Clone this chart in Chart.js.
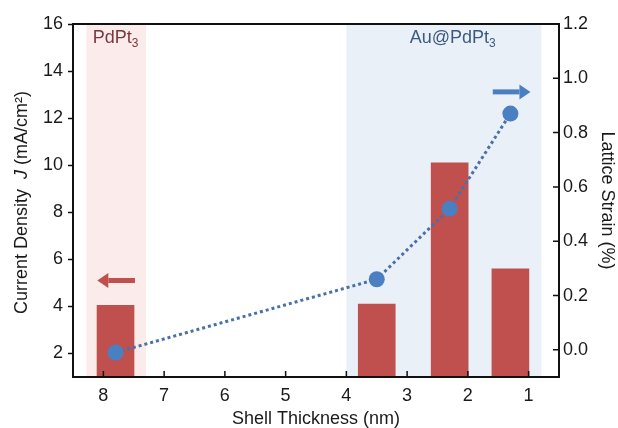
<!DOCTYPE html>
<html>
<head>
<meta charset="utf-8">
<script src="https://cdn.jsdelivr.net/npm/chart.js@4/dist/chart.umd.min.js"></script>
<style>
  html, body { margin: 0; padding: 0; background: #fff; }
  #wrap { width: 618px; height: 428px; }
</style>
</head>
<body>
<div id="wrap"><canvas id="chart" width="618" height="428"></canvas></div>
<script>
// --- datos ---
const thickness = [7.8, 3.5, 2.3, 1.3];            // nm
const currentDensity = [4.05, 4.1, 10.1, 5.6];      // mA/cm2 (eje izquierdo)
const latticeStrain = [-0.01, 0.26, 0.52, 0.87];    // % (eje derecho)

const xTicks = [1, 2, 3, 4, 5, 6, 7, 8];
const leftTicks = [2, 4, 6, 8, 10, 12, 14, 16];
const rightTicks = [0, 0.2, 0.4, 0.6, 0.8, 1.0, 1.2];

const pdpt3Band = [8.28, 7.3];
const auBand = [4.0, 0.79];
const pdpt3Label = [7.8, 15.2];      // x, J
const auLabel = [2.25, 15.2];        // x, J
const leftArrow = [8.1, 7.48, 5.1];  // punta x, cola x, J
const rightArrow = [0.97, 1.59, 0.95]; // punta x, cola x, strain

const FONT = "'Liberation Sans', Arial, sans-serif";
const RED = '#c0504d';
const BLUE = '#4a7fc1';

function setTicks(values) {
    return scale => { scale.ticks = values.map(v => ({ value: v })); };
}

function drawArrow(ctx, tipX, tailX, y, color) {
    const dir = tailX > tipX ? 1 : -1;
    const headLen = 11;
    ctx.save();
    ctx.fillStyle = color;
    ctx.fillRect(Math.min(tailX, tipX + dir * headLen), y - 2.5, Math.abs(tailX - tipX) - headLen, 5);
    ctx.beginPath();
    ctx.moveTo(tipX, y);
    ctx.lineTo(tipX + dir * headLen, y - 7.5);
    ctx.lineTo(tipX + dir * headLen, y + 7.5);
    ctx.closePath();
    ctx.fill();
    ctx.restore();
}

function drawSubLabel(ctx, main, sub, cx, baseline, color) {
    ctx.save();
    ctx.fillStyle = color;
    ctx.textBaseline = 'alphabetic';
    ctx.font = '18px ' + FONT;
    const w1 = ctx.measureText(main).width;
    ctx.font = '12px ' + FONT;
    const w2 = ctx.measureText(sub).width;
    const x0 = cx - (w1 + w2) / 2;
    ctx.font = '18px ' + FONT;
    ctx.textAlign = 'left';
    ctx.fillText(main, x0, baseline);
    ctx.font = '12px ' + FONT;
    ctx.fillText(sub, x0 + w1, baseline + 4);
    ctx.restore();
}

const decorations = {
    id: 'decorations',
    beforeDatasetsDraw(chart) {
        const { ctx, chartArea: a, scales: { x } } = chart;
        ctx.save();
        ctx.fillStyle = '#fbeceb';
        let x1 = x.getPixelForValue(pdpt3Band[0]), x2 = x.getPixelForValue(pdpt3Band[1]);
        ctx.fillRect(x1, a.top, x2 - x1, a.bottom - a.top);
        ctx.fillStyle = '#eaf0f8';
        x1 = x.getPixelForValue(auBand[0]); x2 = x.getPixelForValue(auBand[1]);
        ctx.fillRect(x1, a.top, x2 - x1, a.bottom - a.top);
        ctx.restore();
    },
    afterDraw(chart) {
        const { ctx, chartArea: a, scales: { x, y, y1 } } = chart;

        // etiquetas de las zonas
        drawSubLabel(ctx, 'PdPt', '3', x.getPixelForValue(pdpt3Label[0]), y.getPixelForValue(pdpt3Label[1]), '#7a383d');
        drawSubLabel(ctx, 'Au@PdPt', '3', x.getPixelForValue(auLabel[0]), y.getPixelForValue(auLabel[1]), '#3e5a80');

        // flechas indicando el eje
        drawArrow(ctx, x.getPixelForValue(leftArrow[0]), x.getPixelForValue(leftArrow[1]), y.getPixelForValue(leftArrow[2]), RED);
        drawArrow(ctx, x.getPixelForValue(rightArrow[0]), x.getPixelForValue(rightArrow[1]), y1.getPixelForValue(rightArrow[2]), BLUE);

        // marcas hacia dentro (eje x y eje derecho)
        ctx.save();
        ctx.strokeStyle = '#111';
        ctx.lineWidth = 1.5;
        ctx.beginPath();
        xTicks.forEach(v => {
            const px = x.getPixelForValue(v);
            ctx.moveTo(px, a.bottom);
            ctx.lineTo(px, a.bottom - 6);
        });
        rightTicks.forEach(v => {
            const py = y1.getPixelForValue(v);
            ctx.moveTo(a.right, py);
            ctx.lineTo(a.right - 6, py);
        });
        ctx.stroke();

        // marco
        ctx.lineWidth = 2;
        ctx.strokeRect(a.left, a.top, a.right - a.left, a.bottom - a.top);
        ctx.restore();

        // título del eje izquierdo (J en cursiva)
        ctx.save();
        ctx.translate(22, (a.top + a.bottom) / 2 + 2);
        ctx.rotate(-Math.PI / 2);
        ctx.fillStyle = '#1a1a1a';
        ctx.textBaseline = 'middle';
        ctx.textAlign = 'left';
        const parts = [
            ['Current Density  ', '18px ' + FONT],
            ['J', 'italic 18px ' + FONT],
            [' (mA/cm\u00B2)', '18px ' + FONT]
        ];
        let total = 0;
        parts.forEach(p => { ctx.font = p[1]; total += ctx.measureText(p[0]).width; });
        let cx = -total / 2;
        parts.forEach(p => {
            ctx.font = p[1];
            ctx.fillText(p[0], cx, 0);
            cx += ctx.measureText(p[0]).width;
        });
        ctx.restore();
    }
};

new Chart(document.getElementById('chart'), {
    type: 'bar',
    data: {
        datasets: [
            {
                type: 'line',
                label: 'Lattice Strain',
                data: thickness.map((t, i) => ({ x: t, y: latticeStrain[i] })),
                yAxisID: 'y1',
                borderColor: '#4a70a8',
                borderWidth: 3,
                borderDash: [3, 3],
                pointRadius: 8,
                pointBackgroundColor: BLUE,
                pointBorderWidth: 0,
                fill: false,
                tension: 0,
                order: 0
            },
            {
                type: 'bar',
                label: 'Current Density',
                data: thickness.map((t, i) => ({ x: t, y: currentDensity[i] })),
                yAxisID: 'y',
                backgroundColor: RED,
                barThickness: 37,
                order: 1
            }
        ]
    },
    options: {
        responsive: false,
        animation: false,
        layout: { padding: { top: 24, left: 0, right: 0, bottom: 0 } },
        plugins: { legend: { display: false }, tooltip: { enabled: false } },
        scales: {
            x: {
                type: 'linear',
                reverse: true,
                min: 0.5,
                max: 8.5,
                offset: false,
                afterBuildTicks: setTicks(xTicks),
                afterFit: s => { s.height = 51; },
                grid: { display: false, drawTicks: false, offset: false },
                border: { display: false },
                ticks: { padding: 8, color: '#1a1a1a', font: { family: FONT, size: 18 }, maxRotation: 0 },
                title: { display: true, text: 'Shell Thickness (nm)', color: '#1a1a1a', font: { family: FONT, size: 18, lineHeight: 1 }, padding: 0 }
            },
            y: {
                position: 'left',
                min: 1,
                max: 16,
                afterBuildTicks: setTicks(leftTicks),
                afterFit: s => { s.width = 73; },
                grid: { drawOnChartArea: false, drawTicks: true, tickLength: 5, tickWidth: 1.5, tickColor: '#111' },
                border: { display: false },
                ticks: { padding: 5, color: '#1a1a1a', font: { family: FONT, size: 18 } }
            },
            y1: {
                position: 'right',
                min: -0.1,
                max: 1.2,
                afterBuildTicks: setTicks(rightTicks),
                afterFit: s => { s.width = 59; },
                grid: { display: false, drawTicks: false },
                border: { display: false },
                ticks: { padding: 4, color: '#1a1a1a', font: { family: FONT, size: 18 }, callback: v => v.toFixed(1) },
                title: { display: true, text: 'Lattice Strain (%)', color: '#1a1a1a', font: { family: FONT, size: 18 }, padding: 0 }
            }
        }
    },
    plugins: [decorations]
});
</script>
</body>
</html>
